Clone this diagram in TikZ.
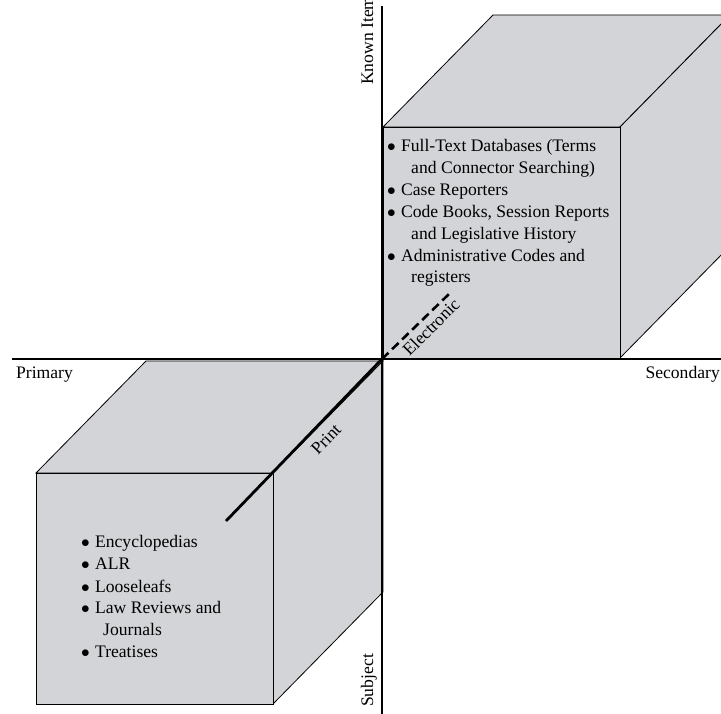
\documentclass[tikz,border=0pt]{standalone}
\usepackage{fontspec}
\setmainfont{Liberation Serif}
\definecolor{cubegray}{RGB}{211,212,215}
\begin{document}
\begin{tikzpicture}[x=1pt,y=-1pt,
  face/.style={fill=cubegray,draw=black,line width=0.8pt,line join=miter},
  axis/.style={line width=2.8pt,draw=black},
  txt/.style={inner sep=0pt,anchor=base west,font=\fontsize{17.6}{21.7}\selectfont},
  lbl/.style={inner sep=0pt,font=\fontsize{17.6}{21.7}\selectfont}]
\useasboundingbox (0,0) rectangle (721,714);
\newcommand{\bul}{\hspace{-1pt}$\bullet$\hspace{0.3em}}
% upper cube
\coordinate (uA) at (383,127);
\coordinate (uB) at (620,127);
\coordinate (uC) at (620,358);
\coordinate (uD) at (383,358);
\coordinate (uE) at (493,15);
\coordinate (uF) at (730,15);
\coordinate (uG) at (730,246);
\draw[face] (uA) -- (uE) -- (uF) -- (uB) -- cycle;
\draw[face] (uB) -- (uF) -- (uG) -- (uC) -- cycle;
\draw[face] (uA) rectangle (uC);
% lower cube
\coordinate (lA) at (36,473);
\coordinate (lB) at (273,473);
\coordinate (lC) at (273,704);
\coordinate (lE) at (146,361);
\coordinate (lF) at (383,361);
\coordinate (lG) at (383,592);
\draw[face] (lA) -- (lE) -- (lF) -- (lB) -- cycle;
\draw[face] (lB) -- (lF) -- (lG) -- (lC) -- cycle;
\draw[face] (lA) rectangle (lC);
% axes
\coordinate (O) at (382,359);
\coordinate (axL) at (12,359);
\coordinate (axR) at (725,359);
\coordinate (axT) at (382,6);
\coordinate (axB) at (382,718);
\draw[axis] (axL) -- (axR);
\draw[axis] (axT) -- (axB);
% print / electronic
\coordinate (pEnd) at (226,521);
\coordinate (eEnd) at (449,294);
\draw[line width=2.8pt] (O) -- (pEnd);
\draw[line width=2.6pt,dash pattern=on 9pt off 5pt] (O) -- (eEnd);
% labels
\node[lbl,anchor=base west] (prim) at (16,378) {Primary};
\node[lbl,anchor=base east] (sec) at (720,378) {Secondary};
\node[lbl,anchor=base west,rotate=90] (known) at (373,85) {Known Item};
\node[lbl,anchor=base west,rotate=90] (subj) at (373,707) {Subject};
\node[lbl,rotate=46] (print) at (326,439) {Print};
\node[lbl,rotate=45] (elec) at (431,327) {Electronic};
% upper list
\node[txt] (u1) at (388,152) {\bul Full-Text Databases (Terms};
\node[txt] (u2) at (411,174) {and Connector Searching)};
\node[txt] (u3) at (388,196) {\bul Case Reporters};
\node[txt] (u4) at (388,218) {\bul Code Books, Session Reports};
\node[txt] (u5) at (411,240) {and Legislative History};
\node[txt] (u6) at (388,262) {\bul Administrative Codes and};
\node[txt] (u7) at (411,283) {registers};
% lower list
\node[txt] (l1) at (82,547) {\bul Encyclopedias};
\node[txt] (l2) at (82,569) {\bul ALR};
\node[txt] (l3) at (82,592) {\bul Looseleafs};
\node[txt] (l4) at (82,613) {\bul Law Reviews and};
\node[txt] (l5) at (103,635) {Journals};
\node[txt] (l6) at (82,657) {\bul Treatises};
\end{tikzpicture}
\end{document}
